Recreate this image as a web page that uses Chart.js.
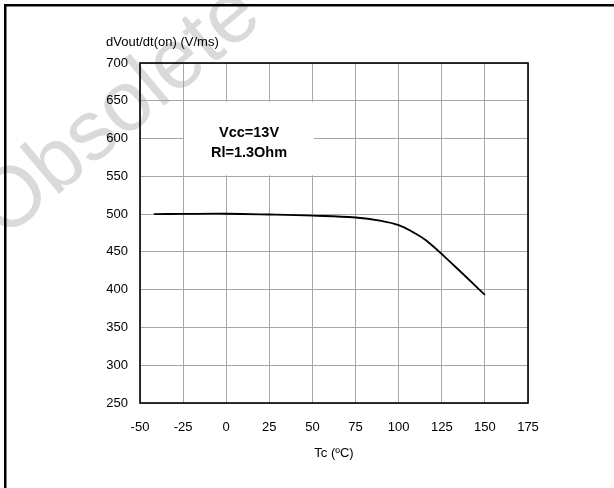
<!DOCTYPE html>
<html>
<head>
<meta charset="utf-8">
<script src="https://cdn.jsdelivr.net/npm/chart.js@4.4.0/dist/chart.umd.min.js"></script>
<style>
  body { margin: 0; background: #fff; }
  #wrap { width: 614px; height: 488px; }
</style>
</head>
<body>
<div id="wrap"><canvas id="dvdtChart" width="614" height="488"></canvas></div>
<script>
// data
var tempC = [-42, -25, 0, 25, 50, 75, 90, 100, 108, 116, 133, 150];
var dvdtOn = [500, 500.3, 500.5, 499.5, 498, 495.5, 491, 485.5, 476.5, 465, 430, 393];
var xTicks = [-50, -25, 0, 25, 50, 75, 100, 125, 150, 175];
var yTicks = [250, 300, 350, 400, 450, 500, 550, 600, 650, 700];
var noteLines = ["Vcc=13V", "Rl=1.3Ohm"];

var FONT = "Arial, 'Liberation Sans', sans-serif";

// page frame, watermark, axis caption and the note box
var extras = {
  id: 'extras',
  beforeDraw: function(chart) {
    var ctx = chart.ctx;
    ctx.save();
    ctx.fillStyle = '#fff';
    ctx.fillRect(0, 0, chart.width, chart.height);
    // watermark
    ctx.translate(4, 240);
    ctx.rotate(-40 * Math.PI / 180);
    ctx.font = '85px ' + FONT;
    ctx.fillStyle = '#dadada';
    ctx.textBaseline = 'alphabetic';
    ctx.fillText('Obsolete', 0, 0);
    ctx.restore();

    ctx.save();
    ctx.fillStyle = '#000';
    ctx.fillRect(4, 4, chart.width - 4, 2.5);
    ctx.fillRect(4, 4, 2.5, chart.height - 4);
    ctx.restore();
  },
  beforeDatasetsDraw: function(chart) {
    var ctx = chart.ctx;
    var x = chart.scales.x, y = chart.scales.y;
    var x1 = x.getPixelForValue(-25) + 1;
    var x2 = x.getPixelForValue(50) + 1.5;
    var y1 = y.getPixelForValue(650) + 1;
    var y2 = y.getPixelForValue(550) - 1;
    ctx.save();
    ctx.fillStyle = '#fff';
    ctx.fillRect(x1, y1, x2 - x1, y2 - y1);
    ctx.fillStyle = '#000';
    ctx.font = 'bold 14.5px ' + FONT;
    ctx.textAlign = 'center';
    ctx.textBaseline = 'middle';
    var cx = (x1 + x2) / 2;
    ctx.fillText(noteLines[0], cx, y1 + 31);
    ctx.fillText(noteLines[1], cx, y1 + 51.5);
    ctx.restore();
  },
  afterDraw: function(chart) {
    var ctx = chart.ctx;
    var a = chart.chartArea;
    ctx.save();
    ctx.strokeStyle = '#000';
    ctx.lineWidth = 1.6;
    ctx.strokeRect(a.left, a.top, a.right - a.left, a.bottom - a.top);
    ctx.fillStyle = '#000';
    ctx.font = '13px ' + FONT;
    ctx.textAlign = 'left';
    ctx.textBaseline = 'middle';
    ctx.fillText('dVout/dt(on) (V/ms)', 106, 42.5);
    ctx.restore();
  }
};

var points = tempC.map(function(t, i) { return { x: t, y: dvdtOn[i] }; });

const dvdtChart = document.getElementById('dvdtChart');
var myChart = new Chart(dvdtChart, {
  type: 'line',
  data: {
    datasets: [{
      data: points,
      borderColor: '#000',
      borderWidth: 1.8,
      pointRadius: 0,
      tension: 0.4,
      fill: false
    }]
  },
  options: {
    responsive: false,
    animation: false,
    devicePixelRatio: 1,
    layout: { padding: { top: 63, right: 86, left: 0, bottom: 0 } },
    plugins: {
      legend: { display: false },
      tooltip: { enabled: false }
    },
    scales: {
      x: {
        type: 'linear',
        min: xTicks[0],
        max: xTicks[xTicks.length - 1],
        afterBuildTicks: function(s) { s.ticks = xTicks.map(function(v) { return { value: v }; }); },
        afterFit: function(s) { s.height = 85; },
        grid: { color: '#a6a6a6', lineWidth: 1, drawTicks: false },
        border: { display: false },
        ticks: { color: '#000', font: { family: FONT, size: 13 }, padding: 17, maxRotation: 0 },
        title: {
          display: true,
          text: 'Tc (ºC)',
          color: '#000',
          font: { family: FONT, size: 13 },
          padding: { top: 0, bottom: 27 }
        }
      },
      y: {
        min: yTicks[0],
        max: yTicks[yTicks.length - 1],
        afterBuildTicks: function(s) { s.ticks = yTicks.map(function(v) { return { value: v }; }); },
        afterFit: function(s) { s.width = 140; },
        grid: { color: '#a6a6a6', lineWidth: 1, drawTicks: false },
        border: { display: false },
        ticks: { color: '#000', font: { family: FONT, size: 13 }, padding: 12 }
      }
    }
  },
  plugins: [extras]
});
</script>
</body>
</html>
